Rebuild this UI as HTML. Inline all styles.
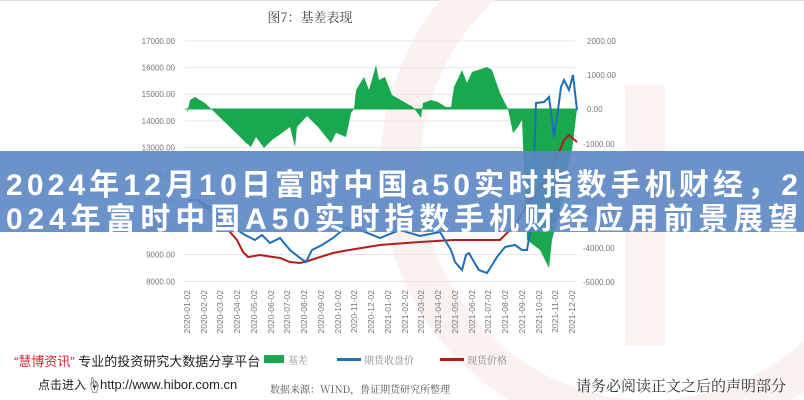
<!DOCTYPE html>
<html><head><meta charset="utf-8"><style>
html,body{margin:0;padding:0;background:#fff;}
body{width:804px;height:400px;overflow:hidden;position:relative;font-family:"Liberation Sans","Noto Sans CJK SC",sans-serif;}
</style></head><body>
<svg width="804" height="400" viewBox="0 0 804 400" xmlns="http://www.w3.org/2000/svg" style="position:absolute;left:0;top:0">
<line x1="0" y1="0.5" x2="804" y2="0.5" stroke="#ddd"/>
<circle cx="650" cy="170" r="250" fill="none" stroke="#fcf1f1" stroke-width="40"/>
<rect x="625" y="85" width="40" height="260" fill="#fdf3f3"/>
<text x="310" y="22" font-family="'Noto Serif CJK SC',serif" font-size="13" fill="#444" text-anchor="middle">图7：基差表现</text>
<g stroke="#e6e6e6" stroke-width="1">
<line x1="185" y1="41" x2="575" y2="41"/><line x1="185" y1="67.7" x2="575" y2="67.7"/>
<line x1="185" y1="94.4" x2="575" y2="94.4"/><line x1="185" y1="121" x2="575" y2="121"/>
<line x1="185" y1="147.8" x2="575" y2="147.8"/><line x1="185" y1="174.5" x2="575" y2="174.5"/>
<line x1="185" y1="201" x2="575" y2="201"/><line x1="185" y1="228" x2="575" y2="228"/>
<line x1="185" y1="254.5" x2="575" y2="254.5"/><line x1="185" y1="281.5" x2="575" y2="281.5"/>
</g>
<g font-size="8" fill="#777" text-anchor="end">
<text x="175" y="44">17000.00</text><text x="175" y="70.5">16000.00</text><text x="175" y="97">15000.00</text>
<text x="175" y="124">14000.00</text><text x="175" y="150.5">13000.00</text><text x="175" y="177">12000.00</text>
<text x="175" y="204">11000.00</text><text x="175" y="231">10000.00</text><text x="175" y="257.5">9000.00</text><text x="175" y="284.5">8000.00</text>
</g>
<g font-size="8" fill="#777">
<text x="587" y="44">2000.00</text><text x="587" y="78">1000.00</text><text x="587" y="112">0.00</text>
<text x="583" y="147">-1000.00</text><text x="583" y="181">-2000.00</text><text x="583" y="215">-3000.00</text>
<text x="583" y="251">-4000.00</text><text x="583" y="285">-5000.00</text>
</g>
<polygon fill="#1aa84f" points="187,109 187,113 190,100 195,97 205,103 236,133 246,143 251,147 256,137 264,148 272,140 282,133 290,127 295,147 297,127 307,116 318,127 331,143 336,133 346,137 351,113 354,109 356,90 364,77 369,90 376,65 379,80 385,77 392,95 413,107 421,118 423,103 431,100 438,102 446,107 451,107 454,87 462,70 467,83 472,72 487,67 492,70 500,93 508,109 513,133 518,127 522,120 527,240 540,250 545,260 549,268 552,240 560,210 565,180 572,150 577,109"/>
<line x1="185" y1="109" x2="577" y2="109" stroke="#1aa84f" stroke-width="1"/>
<polyline fill="none" stroke="#b01e1e" stroke-width="2" points="188,200 197,200 215,215 230,232 237,240 243,252 248,257 260,255 273,257 280,258 290,262 300,263 308,261 317,258 333,253 349,250 380,245 420,242 453,240 480,240 500,240 515,225 530,200 545,180 560,150 564,140 569,135 577,142"/>
<polyline fill="none" stroke="#1e6fb5" stroke-width="2" points="188,200 197,200 215,210 230,225 245,235 255,240 262,235 270,243 280,238 290,250 300,258 306,262 312,250 322,245 333,238 345,228 360,230 380,238 400,230 420,236 440,232 451,250 455,262 462,270 466,255 469,253 474,262 479,270 487,273 492,265 497,257 505,247 515,245 522,250 527,250 532,220 536,103 544,102 549,97 552,120 554,137 558,110 561,87 564,80 569,90 573,75 577,110"/>
<g font-size="8.5" fill="#777">
<text transform="translate(190,290) rotate(-90)" text-anchor="end">2020-01-02</text>
<text transform="translate(207,290) rotate(-90)" text-anchor="end">2020-02-02</text>
<text transform="translate(223,290) rotate(-90)" text-anchor="end">2020-03-02</text>
<text transform="translate(240,290) rotate(-90)" text-anchor="end">2020-04-02</text>
<text transform="translate(257,290) rotate(-90)" text-anchor="end">2020-05-02</text>
<text transform="translate(274,290) rotate(-90)" text-anchor="end">2020-06-02</text>
<text transform="translate(290,290) rotate(-90)" text-anchor="end">2020-07-02</text>
<text transform="translate(307,290) rotate(-90)" text-anchor="end">2020-08-02</text>
<text transform="translate(324,290) rotate(-90)" text-anchor="end">2020-09-02</text>
<text transform="translate(341,290) rotate(-90)" text-anchor="end">2020-10-02</text>
<text transform="translate(357,290) rotate(-90)" text-anchor="end">2020-11-02</text>
<text transform="translate(374,290) rotate(-90)" text-anchor="end">2020-12-02</text>
<text transform="translate(391,290) rotate(-90)" text-anchor="end">2021-01-02</text>
<text transform="translate(408,290) rotate(-90)" text-anchor="end">2021-02-02</text>
<text transform="translate(424,290) rotate(-90)" text-anchor="end">2021-03-02</text>
<text transform="translate(441,290) rotate(-90)" text-anchor="end">2021-04-02</text>
<text transform="translate(458,290) rotate(-90)" text-anchor="end">2021-05-02</text>
<text transform="translate(475,290) rotate(-90)" text-anchor="end">2021-06-02</text>
<text transform="translate(491,290) rotate(-90)" text-anchor="end">2021-07-02</text>
<text transform="translate(508,290) rotate(-90)" text-anchor="end">2021-08-02</text>
<text transform="translate(525,290) rotate(-90)" text-anchor="end">2021-09-02</text>
<text transform="translate(542,290) rotate(-90)" text-anchor="end">2021-10-02</text>
<text transform="translate(558,290) rotate(-90)" text-anchor="end">2021-11-02</text>
<text transform="translate(575,290) rotate(-90)" text-anchor="end">2021-12-02</text>
</g>
<text x="14" y="366" font-size="13" fill="#222"><tspan fill="#d23">“慧博资讯”</tspan> 专业的投资研究大数据分享平台</text>
<rect x="264" y="355" width="20" height="8" fill="#1aa84f"/>
<text x="288" y="364" font-size="10" fill="#888" font-family="'Noto Serif CJK SC',serif">基差</text>
<rect x="337" y="358" width="24" height="3" fill="#1e6fb5"/>
<text x="364" y="364" font-size="10" fill="#888" font-family="'Noto Serif CJK SC',serif">期货收盘价</text>
<rect x="440" y="358" width="24" height="3" fill="#b01e1e"/>
<text x="467" y="364" font-size="10" fill="#888" font-family="'Noto Serif CJK SC',serif">现货价格</text>
<text x="38" y="389" font-size="12" fill="#222">点击进入</text>
<text x="86" y="391" font-size="16" fill="#222">☝</text>
<text x="100" y="389" font-size="13" fill="#222">http://www.hibor.com.cn</text>
<text x="270" y="393" font-size="10" fill="#555" font-family="'Noto Serif CJK SC',serif">数据来源：WIND，鲁证期货研究所整理</text>
<text x="576" y="391" font-size="15" fill="#333" font-family="'Noto Serif CJK SC',serif">请务必阅读正文之后的声明部分</text>
<rect x="0" y="151" width="804" height="81" fill="#5c86c4" fill-opacity="0.9"/>
<text x="6" y="195" font-size="30" font-weight="bold" fill="#fff" textLength="792" lengthAdjust="spacing">2024年12月10日富时中国a50实时指数手机财经，2</text>
<text x="6" y="229" font-size="30" font-weight="bold" fill="#fff" textLength="792" lengthAdjust="spacing">024年富时中国A50实时指数手机财经应用前景展望</text>
</svg>
</body></html>
